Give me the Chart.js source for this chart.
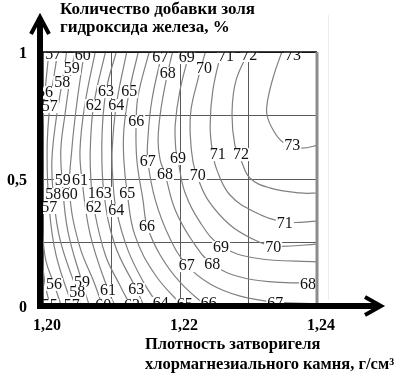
<!DOCTYPE html>
<html>
<head>
<meta charset="utf-8">
<script src="https://cdn.jsdelivr.net/npm/chart.js@4.4.1/dist/chart.umd.min.js"></script>
<style>
    html, body { margin: 0; padding: 0; background: #fff; }
    canvas { display: block; }
</style>
</head>
<body>
<canvas id="chart" width="400" height="379" style="width:400px;height:379px"></canvas>
<script>
// Изолинии: точки [плотность, г/см3 ; добавка, %]
const c55 = [[1.1999, 0.173], [1.2004, 0.071], [1.2012, -0.01]];
const c56a = [[1.2009, 1.01], [1.2003, 0.843], [1.1999, 0.693]];
const c56b = [[1.1999, 0.299], [1.2004, 0.181], [1.2016, 0.087], [1.2028, -0.01]];
const c57 = [[1.2022, 1.01], [1.2010, 0.787], [1.2006, 0.614], [1.2009, 0.390], [1.2019, 0.201], [1.2044, -0.01]];
const c58 = [[1.2035, 1.01], [1.2028, 0.882], [1.2019, 0.732], [1.2013, 0.575], [1.2015, 0.441], [1.2025, 0.260], [1.2050, 0.055], [1.2057, -0.01]];
const c59 = [[1.2048, 1.01], [1.2042, 0.937], [1.2032, 0.752], [1.2026, 0.614], [1.2028, 0.496], [1.2036, 0.299], [1.2057, 0.094], [1.2069, -0.01]];
const c60 = [[1.2061, 1.01], [1.2050, 0.811], [1.2042, 0.614], [1.2039, 0.441], [1.2053, 0.240], [1.2076, 0.083], [1.2088, -0.01]];
const c61 = [[1.2077, 1.01], [1.2061, 0.791], [1.2054, 0.614], [1.2057, 0.496], [1.2069, 0.280], [1.2095, 0.063], [1.2107, -0.01]];
const c62 = [[1.2092, 1.01], [1.2074, 0.791], [1.2069, 0.614], [1.2070, 0.496], [1.2074, 0.390], [1.2091, 0.201], [1.2112, 0.083], [1.2130, -0.01]];
const c63 = [[1.2108, 1.01], [1.2092, 0.846], [1.2086, 0.654], [1.2089, 0.445], [1.2105, 0.240], [1.2136, 0.067], [1.2149, -0.01]];
const c64 = [[1.2123, 1.01], [1.2107, 0.791], [1.2101, 0.614], [1.2102, 0.496], [1.2107, 0.378], [1.2124, 0.220], [1.2149, 0.083], [1.2172, -0.01]];
const c65 = [[1.2140, 1.01], [1.2126, 0.846], [1.2118, 0.693], [1.2118, 0.575], [1.2123, 0.445], [1.2134, 0.280], [1.2164, 0.122], [1.2207, -0.01]];
const c66 = [[1.2156, 1.01], [1.2139, 0.831], [1.2136, 0.728], [1.2137, 0.575], [1.2146, 0.417], [1.2152, 0.315], [1.2171, 0.201], [1.2200, 0.094], [1.2242, -0.01]];
const c67 = [[1.2175, 1.01], [1.2159, 0.811], [1.2153, 0.654], [1.2153, 0.571], [1.2164, 0.417], [1.2185, 0.268], [1.2210, 0.161], [1.2244, 0.087], [1.2288, 0.039], [1.2339, 0.016], [1.2404, 0.008]];
const c68 = [[1.2190, 1.01], [1.2182, 0.917], [1.2172, 0.772], [1.2168, 0.654], [1.2171, 0.575], [1.2178, 0.520], [1.2193, 0.378], [1.2219, 0.252], [1.2247, 0.165], [1.2288, 0.114], [1.2339, 0.094], [1.2387, 0.091], [1.2404, 0.094]];
const c69 = [[1.2215, 1.01], [1.2200, 0.850], [1.2193, 0.713], [1.2194, 0.614], [1.2197, 0.575], [1.2207, 0.449], [1.2229, 0.331], [1.2260, 0.236], [1.2309, 0.189], [1.2404, 0.173]];
const c70 = [[1.2238, 1.01], [1.2226, 0.890], [1.2216, 0.772], [1.2215, 0.673], [1.2219, 0.567], [1.2226, 0.504], [1.2241, 0.417], [1.2273, 0.319], [1.2309, 0.260], [1.2336, 0.236], [1.2404, 0.244]];
const c71 = [[1.2261, 1.01], [1.2248, 0.850], [1.2244, 0.713], [1.2247, 0.614], [1.2254, 0.535], [1.2273, 0.437], [1.2309, 0.370], [1.2353, 0.331], [1.2404, 0.335]];
const c72 = [[1.2302, 1.01], [1.2282, 0.890], [1.2276, 0.764], [1.2280, 0.634], [1.2289, 0.575], [1.2302, 0.504], [1.2331, 0.465], [1.2375, 0.445], [1.2404, 0.445]];
const c73 = [[1.2350, 1.01], [1.2337, 0.909], [1.2328, 0.811], [1.2327, 0.752], [1.2336, 0.693], [1.2350, 0.646], [1.2375, 0.622], [1.2404, 0.634]];

const contourLines = [c55, c56a, c56b, c57, c58, c59, c60, c61, c62, c63, c64, c65, c66, c67, c68, c69, c70, c71, c72, c73];

// Подписи изолиний
const labelText = ['57', '60', '67', '69', '71', '72', '73', '59', '58', '56', '57', '63', '65', '62', '64', '66', '68', '70',
    '67', '69', '68', '70', '71', '72', '73', '59', '61', '58', '60', '163', '65', '57', '62', '64', '66', '71', '69', '70',
    '67', '68', '68', '56', '59', '58', '61', '63', '55', '57', '60', '62', '64', '65', '66', '67'];
const labelX = [1.2015, 1.2058, 1.2171, 1.2210, 1.2267, 1.2301, 1.2365, 1.2042, 1.2028, 1.2003, 1.2010, 1.2092, 1.2126, 1.2074, 1.2107, 1.2136, 1.2182, 1.2235,
    1.2153, 1.2197, 1.2178, 1.2226, 1.2255, 1.2289, 1.2364, 1.2029, 1.2054, 1.2015, 1.2039, 1.2083, 1.2123, 1.2009, 1.2074, 1.2107, 1.2152, 1.2353, 1.2260, 1.2336,
    1.2210, 1.2247, 1.2387, 1.2016, 1.2057, 1.2050, 1.2095, 1.2136, 1.2010, 1.2042, 1.2088, 1.2130, 1.2172, 1.2207, 1.2242, 1.2339];
const labelY = [0.992, 0.988, 0.980, 0.980, 0.984, 0.988, 0.988, 0.937, 0.882, 0.843, 0.787, 0.846, 0.846, 0.791, 0.791, 0.728, 0.917, 0.937,
    0.571, 0.583, 0.520, 0.516, 0.598, 0.598, 0.634, 0.496, 0.496, 0.441, 0.441, 0.445, 0.445, 0.390, 0.390, 0.378, 0.315, 0.327, 0.232, 0.232,
    0.161, 0.165, 0.087, 0.087, 0.094, 0.055, 0.063, 0.067, 0.004, 0.004, 0.004, 0.004, 0.012, 0.008, 0.012, 0.012];

// Оси
const xTicks = [1.20, 1.22, 1.24];
const xTickText = ['1,20', '1,22', '1,24'];
const yTicks = [1, 0.5, 0];
const yTickText = ['1', '0,5', '0'];
const yTitle = ['Количество добавки золя', 'гидроксида железа, %'];
const xTitle = ['Плотность затворигеля', 'хлормагнезиального камня, г/см³'];

const decor = {
    id: 'decor',
    afterDatasetsDraw(chart) {
        const { ctx, chartArea: a, scales: { x, y } } = chart;
        ctx.save();
        ctx.beginPath();
        ctx.rect(a.left, a.top, a.right - a.left, a.bottom - a.top);
        ctx.clip();
        ctx.font = '16px "Liberation Serif"';
        ctx.textAlign = 'center';
        ctx.textBaseline = 'middle';
        labelText.forEach((t, i) => {
            const px = x.getPixelForValue(labelX[i]);
            const py = y.getPixelForValue(labelY[i]);
            const w = ctx.measureText(t).width;
            ctx.fillStyle = '#fff';
            ctx.fillRect(px - w / 2 - 1, py - 6, w + 2, 13);
            ctx.fillStyle = '#111';
            ctx.fillText(t, px, py + 1);
        });
        ctx.restore();
    },
    afterDraw(chart) {
        const { ctx, chartArea: a, scales: { x, y } } = chart;
        ctx.save();
        // рамка
        ctx.strokeStyle = '#000';
        ctx.lineWidth = 1.5;
        ctx.beginPath();
        ctx.moveTo(a.left, a.top);
        ctx.lineTo(a.right, a.top);
        ctx.stroke();
        ctx.strokeStyle = '#8c8c8c';
        ctx.lineWidth = 3;
        ctx.beginPath();
        ctx.moveTo(a.right, a.top);
        ctx.lineTo(a.right, a.bottom);
        ctx.stroke();
        ctx.strokeStyle = '#ececec';
        ctx.lineWidth = 1;
        ctx.beginPath();
        ctx.moveTo(328.5, 15);
        ctx.lineTo(328.5, 300);
        ctx.stroke();

        // стрелки осей
        ctx.strokeStyle = '#000';
        ctx.lineWidth = 6;
        ctx.beginPath();
        ctx.moveTo(a.left - 3, a.bottom + 3);
        ctx.lineTo(a.left - 3, 20);
        ctx.moveTo(a.left - 6, a.bottom);
        ctx.lineTo(378, a.bottom);
        ctx.stroke();
        ctx.lineWidth = 4;
        ctx.lineJoin = 'miter';
        ctx.beginPath();
        ctx.moveTo(a.left - 12, 34);
        ctx.lineTo(a.left - 3, 17);
        ctx.lineTo(a.left + 6, 34);
        ctx.moveTo(365, a.bottom - 9);
        ctx.lineTo(381, a.bottom);
        ctx.lineTo(365, a.bottom + 9);
        ctx.stroke();

        // подписи делений
        ctx.fillStyle = '#000';
        ctx.font = 'bold 16px "Liberation Serif"';
        ctx.textAlign = 'center';
        ctx.textBaseline = 'middle';
        xTicks.forEach((v, i) => {
            ctx.fillText(xTickText[i], x.getPixelForValue(v) + 4, a.bottom + 20);
        });
        ctx.textAlign = 'right';
        yTicks.forEach((v, i) => {
            ctx.fillText(yTickText[i], 27, y.getPixelForValue(v) + 2);
        });

        // названия осей
        ctx.textAlign = 'left';
        ctx.font = 'bold 17px "Liberation Serif"';
        ctx.fillText(yTitle[0], 60, 10);
        ctx.fillText(yTitle[1], 60, 28);
        ctx.font = 'bold 16.5px "Liberation Serif"';
        ctx.fillText(xTitle[0], 145, 345);
        ctx.fillText(xTitle[1], 145, 365);
        ctx.restore();
    }
};

new Chart(document.getElementById('chart'), {
    type: 'scatter',
    data: {
        datasets: contourLines.map(pts => ({
            data: pts.map(p => ({ x: p[0], y: p[1] })),
            showLine: true,
            borderColor: '#808080',
            borderWidth: 1.2,
            pointRadius: 0,
            tension: 0.4,
            fill: false
        }))
    },
    options: {
        responsive: false,
        animation: false,
        layout: { padding: { left: 43, right: 83, top: 52, bottom: 73 } },
        plugins: { legend: { display: false }, tooltip: { enabled: false } },
        scales: {
            x: {
                type: 'linear', min: 1.20, max: 1.24,
                ticks: { display: false, stepSize: 0.01 },
                grid: { color: '#5a5a5a', lineWidth: 1, drawTicks: false },
                border: { display: false }
            },
            y: {
                type: 'linear', min: 0, max: 1,
                ticks: { display: false, stepSize: 0.25 },
                grid: { color: '#5a5a5a', lineWidth: 1, drawTicks: false },
                border: { display: false }
            }
        }
    },
    plugins: [decor]
});
</script>
</body>
</html>
